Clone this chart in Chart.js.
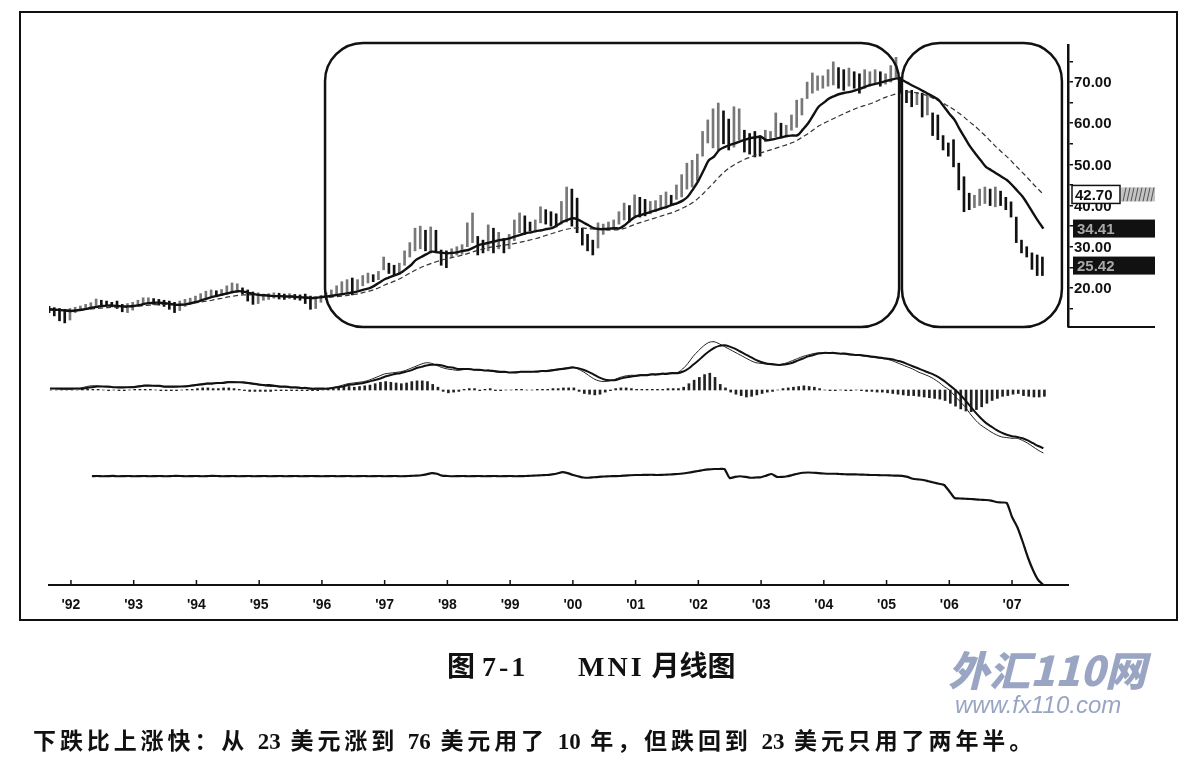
<!DOCTYPE html>
<html lang="zh">
<head>
<meta charset="UTF-8">
<title>MNI 月线图</title>
<script src="https://cdn.jsdelivr.net/npm/chart.js"></script>
<style>
  body { margin: 0; width: 1197px; height: 764px; background: #fff; position: relative; overflow: hidden; }
  #frame { position: absolute; left: 19px; top: 11px; width: 1159px; height: 610px; border: 2px solid #111; box-sizing: border-box; }
  #chart { position: absolute; left: 0; top: 0; }
  .cap { position: absolute; white-space: nowrap; color: #111; }
  #title1, #title2 { top: 651px; font: bold 28px "Liberation Serif", "Noto Sans CJK SC", serif; line-height: 32px; }
  #title1 span, #title2 span { letter-spacing: 3px; }
  #title1 { left: 447px; }
  #title2 { left: 578px; }
  #note { left: 33px; top: 727px; font: bold 23px "Liberation Serif", "Noto Sans CJK SC", serif; letter-spacing: 3.9px; line-height: 30px; }
  #note b { letter-spacing: 0; }
  #wm1 { left: 948px; top: 644px; font: italic 900 41px "Noto Sans CJK SC", sans-serif; color: #9aa5c3; line-height: 48px; }
  #wm2 { left: 955px; top: 692px; font: italic 24px "Liberation Sans", Arial, sans-serif; color: #9aa5c3; line-height: 26px; }
</style>
</head>
<body>
<div id="frame"></div>
<canvas id="chart" width="1197" height="764"></canvas>
<div class="cap" id="title1">图 <span>7-1</span></div>
<div class="cap" id="title2"><span>MNI</span> 月线图</div>
<div class="cap" id="wm1">外汇110网</div>
<div class="cap" id="wm2">www.fx110.com</div>
<div class="cap" id="note">下跌比上涨快：从 <b>23</b> 美元涨到 <b>76</b> 美元用了 <b>10</b> 年，但跌回到 <b>23</b> 美元只用了两年半。</div>

<script>
// monthly bars, first month = Sep 1991
const firstYear = 1991, firstMonth = 9;

const highs = [
  15.5, 15.2, 15.0, 14.8,                                             // 1991
  15.0, 15.3, 15.6, 16.0, 16.4, 17.3, 17.0, 16.8, 16.5, 16.8, 16.0, 16.2, // 1992
  16.5, 17.0, 17.6, 17.6, 17.4, 17.2, 17.0, 16.8, 16.5, 16.8, 17.2, 17.5, // 1993
  18.0, 18.6, 19.2, 19.5, 19.3, 19.6, 20.5, 21.2, 21.0, 20.0, 19.5, 19.0, // 1994
  18.8, 18.5, 18.6, 18.8, 18.7, 18.5, 18.6, 18.4, 18.3, 18.5, 18.0, 17.8, // 1995
  18.2, 18.8, 19.5, 20.5, 21.5, 22.0, 22.4, 22.0, 23.0, 23.6, 23.2, 24.0, // 1996
  27.5, 26.0, 25.5, 26.0, 29.0, 31.0, 34.5, 35.0, 34.0, 34.8, 34.0, 29.2, // 1997
  29.0, 29.5, 30.0, 30.5, 35.8, 38.2, 32.5, 31.6, 35.3, 34.5, 33.5, 32.0, // 1998
  33.0, 36.5, 38.2, 37.5, 36.0, 36.5, 39.7, 39.0, 38.5, 38.0, 41.0, 44.5, // 1999
  44.0, 41.8, 34.5, 33.0, 31.6, 35.8, 35.5, 36.0, 36.5, 38.5, 40.6, 40.0, // 2000
  42.6, 42.0, 41.5, 41.0, 41.2, 42.5, 43.3, 42.5, 45.0, 47.5, 50.3, 51.0, // 2001
  52.5, 58.0, 60.8, 63.5, 64.9, 63.0, 61.0, 64.0, 63.5, 58.3, 57.5, 58.0, // 2002
  57.0, 58.3, 58.0, 62.5, 60.0, 59.5, 62.0, 65.6, 66.0, 70.0, 72.2, 71.5, // 2003
  71.5, 73.0, 74.9, 73.5, 73.0, 73.4, 72.5, 72.0, 73.0, 72.5, 73.0, 72.5, // 2004
  72.0, 74.0, 76.0, 71.2, 68.0, 68.0, 67.5, 67.3, 67.0, 62.5, 62.0, 57.0, // 2005
  55.2, 56.0, 50.3, 47.0, 43.0, 42.5, 44.0, 44.5, 44.0, 44.5, 43.5, 42.0, // 2006
  40.9, 37.2, 31.6, 30.0, 28.5, 28.0, 27.5                                // 2007
];
const lows = [
  14.0, 13.2, 12.0, 11.5,
  12.2, 14.0, 14.5, 14.8, 15.2, 15.5, 15.6, 15.7, 15.4, 15.0, 14.2, 14.0,
  14.6, 15.5, 16.0, 16.2, 16.0, 15.8, 15.5, 14.8, 14.0, 14.5, 15.5, 16.0,
  16.6, 17.0, 17.6, 18.0, 18.0, 18.2, 18.5, 18.8, 19.0, 18.5, 16.8, 16.0,
  16.2, 17.0, 17.2, 17.5, 17.3, 17.2, 17.4, 17.2, 17.0, 16.2, 14.8, 15.0,
  16.5, 17.2, 17.8, 18.2, 18.5, 19.0, 18.3, 19.5, 20.5, 21.2, 21.5, 22.0,
  24.4, 23.5, 23.0, 23.2, 25.5, 27.5, 29.0, 29.5, 29.0, 28.5, 28.5, 25.5,
  24.9, 27.5, 28.0, 28.2, 30.0, 31.0, 28.0, 28.5, 29.0, 28.5, 29.5, 28.5,
  29.5, 31.5, 33.4, 33.0, 33.8, 34.0, 35.8, 35.5, 35.0, 34.8, 35.5, 36.0,
  35.0, 33.4, 30.4, 29.0, 28.0, 29.7, 33.0, 34.0, 34.2, 35.5, 36.5, 36.0,
  37.5, 37.2, 37.5, 38.0, 38.5, 39.0, 39.4, 40.0, 41.5, 42.1, 44.0, 44.5,
  46.0, 52.0, 55.2, 54.0, 53.5, 55.0, 53.5, 54.2, 55.9, 53.0, 52.5, 51.8,
  52.0, 55.5, 56.0, 56.7, 56.5, 57.0, 58.3, 59.0, 62.0, 66.0, 67.3, 68.0,
  68.5, 69.0, 69.3, 68.5, 68.0, 69.0, 68.5, 67.3, 68.5, 69.0, 69.5, 69.0,
  69.5, 70.0, 71.2, 67.3, 65.0, 64.0, 64.5, 61.5, 62.0, 57.0, 56.0, 53.5,
  52.0, 49.4, 43.8, 38.5, 39.0, 39.5, 40.0, 40.5, 40.0, 39.7, 40.0, 39.0,
  37.2, 31.0, 28.5, 27.5, 24.5, 23.0, 23.0
];
// short moving average (solid)
const maShort = [
  14.8, 14.7, 14.6, 14.5,
  14.4, 14.5, 14.7, 14.9, 15.2, 15.4, 15.6, 15.7, 15.7, 15.6, 15.5, 15.5,
  15.6, 15.8, 16.1, 16.3, 16.4, 16.4, 16.3, 16.1, 15.9, 15.9, 16.0, 16.3,
  16.6, 17.0, 17.4, 17.8, 18.1, 18.4, 18.7, 19.0, 19.2, 19.1, 18.8, 18.5,
  18.3, 18.2, 18.1, 18.0, 18.0, 17.9, 17.9, 17.8, 17.7, 17.6, 17.5, 17.6,
  17.8, 17.9, 18.1, 18.3, 18.5, 18.7, 18.9, 19.2, 19.6, 19.9, 20.5, 21.3,
  22.1, 22.6, 23.1, 23.6, 24.5, 25.5, 26.8, 27.5, 28.2, 28.8, 28.7, 28.5,
  28.4, 28.5, 28.7, 29.0, 29.2, 29.8, 30.4, 30.7, 31.0, 31.3, 31.6, 31.8,
  32.1, 32.5, 32.9, 33.3, 33.5, 33.8, 34.0, 34.3, 34.5, 35.2, 36.0, 36.5,
  36.9, 36.6, 35.9, 35.2, 34.5, 34.3, 34.3, 34.4, 34.5, 34.5, 35.3, 36.4,
  37.3, 37.7, 38.1, 38.5, 38.9, 39.3, 39.7, 40.2, 40.6, 41.2, 42.2, 44.0,
  46.0, 48.5, 51.0, 51.9, 53.5, 54.2, 54.7, 55.1, 55.6, 56.0, 56.4, 56.6,
  56.7, 55.9, 56.0, 56.3, 56.6, 56.9, 57.0, 57.1, 58.5, 60.0, 62.0, 64.0,
  65.0, 66.0, 66.6, 67.1, 67.4, 67.6, 68.0, 68.4, 68.9, 69.3, 69.6, 69.9,
  70.3, 70.6, 70.9, 70.5, 69.8, 69.1, 68.5, 67.8, 67.1, 66.4, 65.6, 64.0,
  62.3, 60.8, 58.5, 56.4, 54.3, 52.6, 51.0, 49.4, 48.6, 47.8, 47.0, 46.2,
  45.0, 43.6, 42.2, 40.3, 38.2, 36.2, 34.4
];
// long moving average (dashed)
const maLong = [
  14.6, 14.6, 14.6, 14.6,
  14.6, 14.6, 14.7, 14.8, 14.9, 15.0, 15.1, 15.2, 15.3, 15.3, 15.4, 15.4,
  15.5, 15.6, 15.7, 15.8, 15.9, 16.0, 16.0, 16.0, 16.0, 16.0, 16.1, 16.2,
  16.4, 16.6, 16.8, 17.0, 17.3, 17.5, 17.8, 18.0, 18.2, 18.3, 18.3, 18.3,
  18.3, 18.2, 18.2, 18.1, 18.1, 18.0, 18.0, 17.9, 17.9, 17.8, 17.7, 17.7,
  17.7, 17.7, 17.8, 17.9, 18.0, 18.2, 18.4, 18.6, 18.9, 19.2, 19.6, 20.1,
  20.7, 21.2, 21.7, 22.3, 23.0, 23.7, 24.4, 25.0, 25.5, 26.0, 26.4, 26.8,
  27.1, 27.4, 27.7, 28.0, 28.4, 28.8, 29.2, 29.5, 29.8, 30.0, 30.2, 30.4,
  30.6, 30.8, 31.1, 31.4, 31.7, 32.0, 32.4, 32.8, 33.2, 33.6, 34.0, 34.3,
  34.5, 34.6, 34.5, 34.4, 34.3, 34.2, 34.1, 34.1, 34.1, 34.2, 34.5, 35.0,
  35.5, 35.9, 36.3, 36.7, 37.1, 37.5, 37.9, 38.3, 38.8, 39.4, 40.0, 40.8,
  41.8, 43.0, 44.3, 45.6, 47.0, 48.2, 49.2, 50.0, 50.7, 51.3, 51.8, 52.3,
  52.8, 53.2, 53.6, 54.0, 54.4, 54.8, 55.3, 55.9, 56.7, 57.5, 58.4, 59.3,
  60.0, 60.6, 61.2, 61.8, 62.4, 63.0, 63.5, 64.0, 64.4, 64.8, 65.3, 65.9,
  66.4, 66.8, 67.2, 67.5, 67.6, 67.5, 67.3, 67.0, 66.6, 66.0, 65.4, 64.7,
  64.0, 63.2, 62.3, 61.3, 60.2, 59.2, 58.0, 56.8, 55.5, 54.2, 53.0, 51.9,
  50.6, 49.3, 48.0, 46.7, 45.3, 44.0, 42.7
];
const macd = [
  0.2, 0.2, 0.1, 0.1,
  0.1, 0.2, 0.3, 0.5, 0.6, 0.6, 0.5, 0.4, 0.4, 0.3, 0.3, 0.4,
  0.5, 0.6, 0.7, 0.7, 0.6, 0.5, 0.4, 0.4, 0.4, 0.5, 0.6, 0.7,
  0.8, 0.9, 1.0, 1.0, 1.0, 1.1, 1.2, 1.2, 1.1, 1.0, 0.9, 0.8,
  0.7, 0.6, 0.5, 0.5, 0.4, 0.4, 0.3, 0.3, 0.2, 0.2, 0.1, 0.1,
  0.1, 0.2, 0.3, 0.5, 0.7, 0.9, 1.0, 1.1, 1.2, 1.4, 1.7, 2.0,
  2.3, 2.4, 2.5, 2.6, 2.8, 3.1, 3.4, 3.7, 3.9, 3.8, 3.5, 3.2,
  3.0, 2.9, 2.8, 2.9, 3.0, 2.9, 2.8, 2.8, 2.7, 2.6, 2.5, 2.5,
  2.5, 2.6, 2.6, 2.6, 2.6, 2.7, 2.7, 2.8, 2.9, 3.0, 3.1, 3.2,
  3.3, 3.0, 2.6, 2.1, 1.6, 1.3, 1.2, 1.3, 1.5, 1.8, 2.0, 2.1,
  2.1, 2.2, 2.2, 2.3, 2.3, 2.4, 2.4, 2.5, 2.5, 3.0, 3.8, 4.8,
  5.6, 6.3, 6.8, 6.9, 6.6, 6.2, 5.8, 5.4, 5.0, 4.6, 4.2, 3.9,
  3.8, 3.7, 3.6, 3.6, 3.7, 3.9, 4.2, 4.5, 4.8, 5.0, 5.2, 5.3,
  5.3, 5.3, 5.2, 5.2, 5.1, 5.0, 5.0, 4.9, 4.8, 4.7, 4.6, 4.5,
  4.4, 4.2, 3.9, 3.6, 3.3, 3.0, 2.6, 2.3, 2.0, 1.6, 1.1, 0.5,
  0.0, -0.8, -1.6, -2.4, -3.4, -4.3, -5.0, -5.5, -6.0, -6.4, -6.7, -6.8,
  -6.9, -6.9, -7.2, -7.6, -8.1, -8.6, -9.0
];
const signal = [
  0.2, 0.2, 0.2, 0.2,
  0.2, 0.2, 0.2, 0.3, 0.4, 0.5, 0.5, 0.5, 0.4, 0.4, 0.4, 0.4,
  0.4, 0.5, 0.6, 0.6, 0.6, 0.6, 0.5, 0.5, 0.5, 0.5, 0.5, 0.6,
  0.7, 0.8, 0.9, 0.9, 1.0, 1.0, 1.1, 1.1, 1.1, 1.1, 1.0, 0.9,
  0.8, 0.7, 0.7, 0.6, 0.5, 0.5, 0.4, 0.4, 0.3, 0.3, 0.2, 0.2,
  0.2, 0.2, 0.3, 0.4, 0.5, 0.7, 0.8, 0.9, 1.0, 1.2, 1.4, 1.6,
  1.9, 2.1, 2.3, 2.4, 2.6, 2.8, 3.1, 3.3, 3.5, 3.6, 3.6, 3.5,
  3.3, 3.2, 3.0, 3.0, 3.0, 2.9, 2.9, 2.8, 2.8, 2.7, 2.6, 2.6,
  2.5, 2.5, 2.6, 2.6, 2.6, 2.6, 2.7, 2.7, 2.8, 2.9, 3.0, 3.1,
  3.2, 3.1, 2.9, 2.6, 2.2, 1.8, 1.5, 1.4, 1.4, 1.6, 1.8, 1.9,
  2.0, 2.1, 2.1, 2.2, 2.2, 2.3, 2.3, 2.4, 2.4, 2.6, 3.0, 3.6,
  4.2, 4.9, 5.5, 6.0, 6.3, 6.4, 6.2, 5.9, 5.5, 5.1, 4.7, 4.3,
  4.0, 3.8, 3.7, 3.6, 3.6, 3.7, 3.9, 4.2, 4.5, 4.8, 5.0, 5.2,
  5.3, 5.3, 5.3, 5.2, 5.2, 5.1, 5.0, 5.0, 4.9, 4.8, 4.7, 4.6,
  4.5, 4.4, 4.2, 4.0, 3.7, 3.4, 3.1, 2.8, 2.5, 2.2, 1.8, 1.3,
  0.7, 0.1, -0.6, -1.4, -2.3, -3.2, -4.0, -4.7, -5.2, -5.7, -6.1, -6.4,
  -6.6, -6.7, -6.9, -7.2, -7.6, -8.0, -8.3
];
const histogram = [
  0, 0, 0, 0,
  0, 0, 0.1, 0.1, 0.1, 0.1, 0, -0.1, 0, -0.1, -0.1, 0,
  0.1, 0.1, 0.1, 0.1, 0, -0.1, -0.1, -0.1, -0.1, 0, 0.1, 0.1,
  0.2, 0.3, 0.3, 0.2, 0.2, 0.3, 0.3, 0.2, 0.1, -0.1, -0.2, -0.2,
  -0.2, -0.2, -0.2, -0.1, -0.1, -0.1, -0.1, -0.1, -0.1, -0.1, -0.1, -0.1,
  0, 0.1, 0.2, 0.3, 0.4, 0.5, 0.4, 0.5, 0.6, 0.7, 0.9, 1.1,
  1.2, 1.1, 1.0, 0.9, 1.0, 1.2, 1.3, 1.3, 1.2, 0.8, 0.4, -0.2,
  -0.4, -0.3, -0.2, 0.1, 0.2, 0.2, -0.1, 0.1, 0.2, -0.1, -0.1, 0,
  0, 0.1, 0.1, 0, 0, 0.1, 0.1, 0.1, 0.2, 0.2, 0.3, 0.3,
  0.3, -0.2, -0.5, -0.6, -0.7, -0.6, -0.3, -0.1, 0.2, 0.3, 0.3, 0.2,
  0.1, 0.1, 0.1, 0.1, 0.1, 0.1, 0.2, 0.2, 0.2, 0.4, 0.9, 1.4,
  1.8, 2.2, 2.4, 1.8, 0.8, 0.3, -0.3, -0.6, -0.8, -1.0, -0.9, -0.7,
  -0.5, -0.3, -0.2, 0, 0.2, 0.3, 0.4, 0.5, 0.6, 0.5, 0.4, 0.2,
  0, -0.1, -0.1, 0, -0.1, -0.1, 0, -0.1, -0.2, -0.2, -0.3, -0.3,
  -0.4, -0.5, -0.6, -0.7, -0.8, -0.8, -0.9, -1.0, -1.1, -1.2, -1.3, -1.5,
  -1.9, -2.3, -2.7, -3.0, -3.1, -2.8, -2.4, -1.9, -1.5, -1.2, -0.9, -0.8,
  -0.6, -0.5, -0.8, -0.9, -1.0, -1.0, -0.9
];
// lower oscillator line (starts May 1992)
const oscillator = [
  null, null, null, null,
  null, null, null, null, 87.0, 87.2, 87.0, 87.1, 87.3, 87.0, 87.1, 87.2,
  87.0, 87.1, 87.2, 87.0, 87.1, 87.2, 87.0, 87.1, 87.3, 87.2, 87.0, 87.1,
  87.2, 87.0, 87.1, 87.3, 87.2, 87.0, 87.1, 87.2, 87.0, 87.1, 87.2, 87.0,
  87.1, 87.2, 87.0, 87.1, 87.2, 87.0, 87.1, 87.2, 87.0, 87.1, 87.2, 87.1,
  87.0, 87.1, 87.2, 87.0, 87.1, 87.2, 87.0, 87.1, 87.2, 87.0, 87.1, 87.2,
  87.0, 87.1, 87.2, 87.0, 87.1, 87.3, 87.5, 87.8, 88.5, 89.5, 89.0, 87.5,
  87.2, 87.0, 87.1, 87.2, 87.0, 87.1, 87.2, 87.0, 87.1, 87.2, 87.0, 87.1,
  87.2, 87.0, 87.1, 87.2, 87.4, 87.6, 87.8, 88.0, 88.5, 89.2, 90.3, 89.5,
  88.0, 87.0, 86.0, 85.8, 86.2, 86.5, 86.8, 87.0, 87.1, 87.2, 87.5, 87.8,
  88.0, 88.0, 88.1, 88.2, 88.0, 88.1, 88.3, 88.5, 88.8, 89.2, 89.8, 90.5,
  91.2, 92.0, 92.5, 92.8, 92.8, 92.7, 85.6, 86.5, 87.0, 86.5, 85.8, 86.0,
  86.2, 87.5, 88.8, 86.5, 86.5, 87.0, 88.0, 89.0, 89.8, 90.0, 89.8, 89.5,
  89.2, 89.0, 89.0, 88.8, 88.6, 88.5, 88.5, 88.3, 88.2, 88.0, 88.0, 87.8,
  87.8, 87.6, 87.5, 87.3, 86.5, 85.0, 84.5, 84.0, 83.0, 82.0, 81.0, 80.0,
  75.0, 69.6, 69.2, 69.0, 68.8, 68.5, 68.2, 68.0, 67.5, 66.4, 66.0, 65.6,
  54.4, 46.4, 35.0, 22.4, 12.0, 4.0, 0.0
];

const yearTicks = [1992, 1993, 1994, 1995, 1996, 1997, 1998, 1999, 2000, 2001, 2002, 2003, 2004, 2005, 2006, 2007];
const yearLabels = ["'92", "'93", "'94", "'95", "'96", "'97", "'98", "'99", "'00", "'01", "'02", "'03", "'04", "'05", "'06", "'07"];
const priceTicks = [15, 20, 25, 30, 35, 40, 45, 50, 55, 60, 65, 70, 75];
// last values shown in the tags on the price scale
const tagValues = [42.70, 34.41, 25.42];
// the two rounded frames, in years
const frameRanges = [[1996.05, 2005.2], [2005.245, 2007.795]];

const monthX = highs.map((_, i) => firstYear + (firstMonth - 1 + i) / 12);
const pts = arr => arr.map((v, i) => ({ x: monthX[i], y: v }));
const barColors = highs.map((h, i) => {
  if (i === 0) return '#111';
  return (h + lows[i]) >= (highs[i - 1] + lows[i - 1]) ? '#777' : '#111';
});

const overlay = {
  id: 'overlay',
  afterDraw(chart) {
    const { ctx, scales: { x, y } } = chart;
    ctx.save();
    ctx.strokeStyle = '#111';

    // year ticks point up from the time axis
    ctx.lineWidth = 1.5;
    yearTicks.forEach(v => {
      const px = x.getPixelForValue(v);
      ctx.beginPath();
      ctx.moveTo(px, x.top);
      ctx.lineTo(px, x.top - 5);
      ctx.stroke();
    });

    ctx.lineWidth = 2.5;
    frameRanges.forEach(([a, b]) => {
      const l = x.getPixelForValue(a), r = x.getPixelForValue(b);
      const t = y.top - 2, btm = y.bottom;
      ctx.beginPath();
      ctx.roundRect(l, t, r - l, btm - t, 38);
      ctx.stroke();
    });
    ctx.lineWidth = 2;
    ctx.beginPath();
    ctx.moveTo(y.left, y.bottom);
    ctx.lineTo(y.left + 87, y.bottom);
    ctx.stroke();

    // price scale labels
    ctx.font = 'bold 15px "Liberation Sans", Arial';
    ctx.textBaseline = 'middle';
    ctx.fillStyle = '#111';
    priceTicks.filter(v => v % 10 === 0).forEach(v => {
      ctx.fillText(v.toFixed(2), y.left + 6, y.getPixelForValue(v) + 1);
    });

    tagValues.forEach((v, i) => {
      const py = y.getPixelForValue(v);
      const x0 = y.left + 4, h = 18;
      if (i === 0) {
        ctx.fillStyle = '#fff';
        ctx.fillRect(x0, py - h / 2, 48, h);
        ctx.lineWidth = 1.5;
        ctx.strokeRect(x0, py - h / 2, 48, h);
        ctx.fillStyle = '#111';
        ctx.fillText(v.toFixed(2), x0 + 3, py + 1);
        ctx.fillStyle = '#c4c4c4';
        ctx.fillRect(x0 + 49, py - h / 2 + 2, 34, h - 4);
        ctx.strokeStyle = '#555';
        ctx.lineWidth = 1;
        for (let k = 2; k < 34; k += 4) {
          ctx.beginPath();
          ctx.moveTo(x0 + 49 + k, py + h / 2 - 2);
          ctx.lineTo(x0 + 49 + k + 3, py - h / 2 + 2);
          ctx.stroke();
        }
        ctx.strokeStyle = '#111';
      } else {
        ctx.fillStyle = '#111';
        ctx.fillRect(x0 + 1, py - h / 2, 82, h);
        ctx.fillStyle = '#a8a8a8';
        ctx.fillText(v.toFixed(2), x0 + 5, py + 1);
      }
    });
    ctx.restore();
  }
};

new Chart(document.getElementById('chart'), {
  type: 'bar',
  data: {
    datasets: [
      { type: 'line', data: pts(maShort), yAxisID: 'y', borderColor: '#111', borderWidth: 2.4, pointRadius: 0, tension: 0.3, order: 1 },
      { type: 'line', data: pts(maLong), yAxisID: 'y', borderColor: '#333', borderWidth: 1.2, borderDash: [5, 3], pointRadius: 0, tension: 0.3, order: 1 },
      { type: 'bar', data: highs.map((h, i) => ({ x: monthX[i], y: [lows[i], h] })), yAxisID: 'y', backgroundColor: barColors, barThickness: 2, order: 2 },
      { type: 'line', data: pts(signal), yAxisID: 'yMacd', borderColor: '#111', borderWidth: 2, pointRadius: 0, tension: 0.3, order: 1 },
      { type: 'line', data: pts(macd), yAxisID: 'yMacd', borderColor: '#222', borderWidth: 1, pointRadius: 0, tension: 0.3, order: 1 },
      { type: 'bar', data: pts(histogram), yAxisID: 'yMacd', backgroundColor: '#222', barThickness: 2, order: 2 },
      { type: 'line', data: pts(oscillator), yAxisID: 'yOsc', borderColor: '#111', borderWidth: 2.2, pointRadius: 0, tension: 0.2, order: 1 }
    ]
  },
  options: {
    responsive: false,
    animation: false,
    layout: { padding: { left: 49, top: 45, right: 0, bottom: 0 } },
    plugins: { legend: { display: false }, tooltip: { enabled: false } },
    scales: {
      x: {
        type: 'linear', position: 'bottom', min: 1991.65, max: 2007.892, offset: false,
        afterBuildTicks: s => { s.ticks = yearTicks.map(v => ({ value: v })); },
        afterFit: s => { s.height = 764 - 585; },
        ticks: {
          callback: v => yearLabels[yearTicks.indexOf(v)],
          font: { family: '"Liberation Sans", Arial', weight: 'bold', size: 14 },
          color: '#111', padding: 4, maxRotation: 0, autoSkip: false
        },
        grid: { display: false, offset: false },
        border: { color: '#111', width: 2 }
      },
      y: {
        type: 'linear', position: 'right', stack: 'panels', stackWeight: 282,
        min: 10.5, max: 79,
        afterBuildTicks: s => { s.ticks = priceTicks.map(v => ({ value: v })); },
        afterFit: s => { s.width = 129; },
        ticks: { display: false },
        grid: { drawOnChartArea: false, tickLength: 5, color: '#111', lineWidth: 1.5 },
        border: { color: '#111', width: 2.5 }
      },
      yMacd: {
        type: 'linear', position: 'right', stack: 'panels', stackWeight: 133,
        min: -10, max: 9, display: false
      },
      yOsc: {
        type: 'linear', position: 'right', stack: 'panels', stackWeight: 125,
        min: 0, max: 100, display: false
      }
    }
  },
  plugins: [overlay]
});
</script>
</body>
</html>
